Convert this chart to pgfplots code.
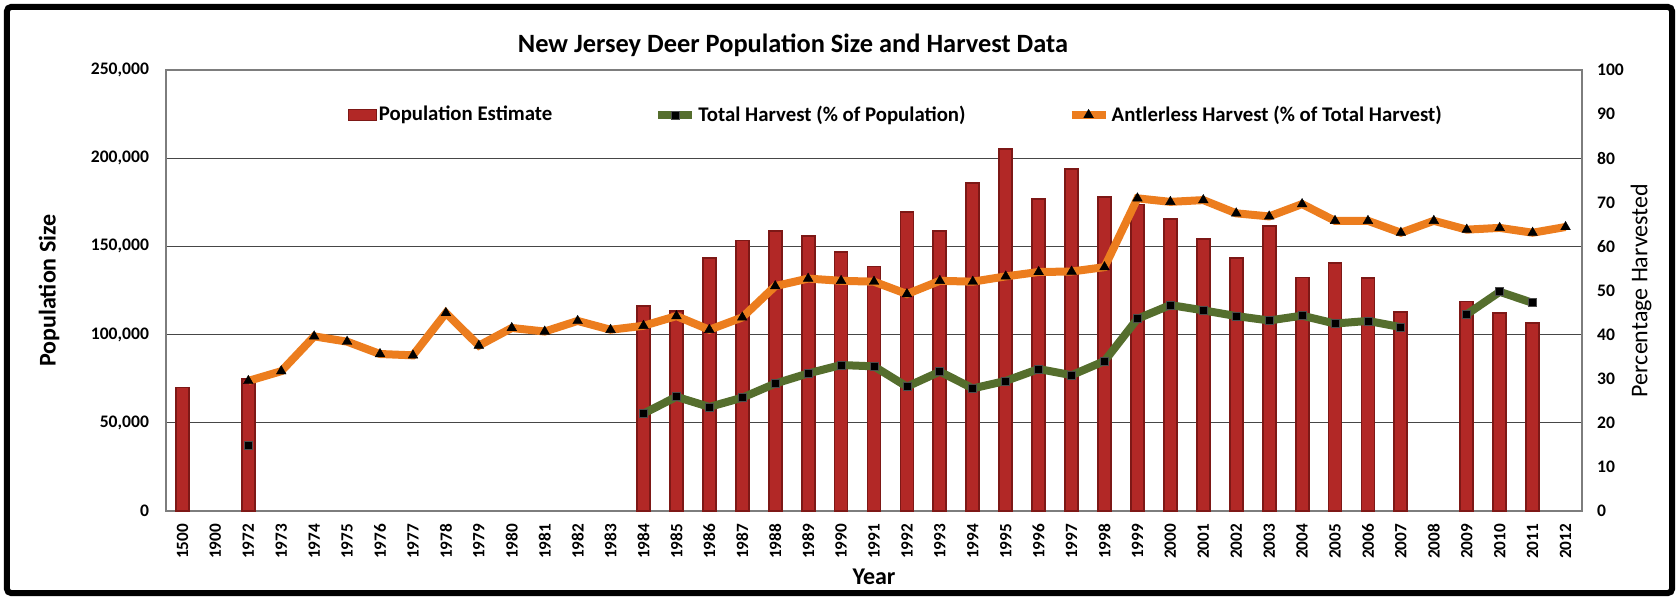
\documentclass[border=0pt]{standalone}
\usepackage{fontspec}
\setmainfont{Carlito}
\usepackage{pgfplots}
\pgfplotsset{compat=1.18}
\definecolor{bardark}{RGB}{125,24,22}
\definecolor{barfill}{RGB}{178,40,38}
\definecolor{harvgreen}{RGB}{85,110,45}
\definecolor{antorange}{RGB}{236,125,30}
\definecolor{axgray}{RGB}{125,125,125}
\definecolor{gridgray}{RGB}{70,70,70}

\begin{document}
\begin{tikzpicture}
\useasboundingbox (-83pt,-44.5pt) rectangle (756.5pt,255.5pt);
\draw[line width=3pt, rounded corners=2pt] (-79.5pt,-41pt) rectangle (753pt,252pt);
\begin{axis}[
  scale only axis, width=708pt, height=220.5pt,
  xmin=-0.5, xmax=42.5, ymin=0, ymax=250000,
  xtick={0,...,42},
  xticklabels={1500,1900,1972,1973,1974,1975,1976,1977,1978,1979,1980,1981,1982,1983,1984,1985,1986,1987,1988,1989,1990,1991,1992,1993,1994,1995,1996,1997,1998,1999,2000,2001,2002,2003,2004,2005,2006,2007,2008,2009,2010,2011,2012},
  ytick={0,50000,...,250000},
  scaled y ticks=false,
  /pgf/number format/fixed,
  /pgf/number format/1000 sep={,},
  /pgf/number format/assume math mode=true,
  ymajorgrids, grid style={gridgray, line width=0.5pt},
  major tick length=0pt,
  axis line style={axgray, line width=1.3pt},
  xticklabel style={rotate=90, anchor=east, font=\bfseries\fontsize{8.6}{10}\selectfont},
  xticklabel shift=3pt,
  yticklabel style={font=\bfseries\fontsize{8.8}{10}\selectfont},
  yticklabel shift=5pt,
  xlabel={Year},
  xlabel style={at={(axis description cs:0.5,-0.15)}, anchor=center, font=\bfseries\fontsize{12}{14}\selectfont},
  ylabel={Population Size},
  ylabel style={at={(axis description cs:-0.0826,0.5)}, anchor=center, font=\bfseries\fontsize{12}{14}\selectfont},
  every axis title shift=0pt,
  title={New Jersey Deer Population Size and Harvest Data},
  title style={at={(axis description cs:0.4428,1.0567)}, anchor=center, font=\bfseries\fontsize{13.2}{15}\selectfont},
]
\addplot[ybar, bar width=6.5pt, draw=bardark, line width=0.9pt, fill=barfill]
coordinates {
(0,70000) (2,74700) (14,116000) (15,113300) (16,143400) (17,153400)
(18,158900) (19,155900) (20,146800) (21,138600) (22,169300) (23,158900)
(24,186000) (25,205000) (26,176900) (27,194100) (28,177800) (29,173700)
(30,165700) (31,154200) (32,143200) (33,161700) (34,132400) (35,140500)
(36,132000) (37,112900) (39,118800) (40,112100) (41,106400)
};
\end{axis}
\begin{axis}[
  scale only axis, width=708pt, height=220.5pt,
  xmin=-0.5, xmax=42.5, ymin=0, ymax=100,
  axis y line*=right, axis x line=none,
  ytick={0,10,...,100},
  major tick length=0pt,
  axis line style={axgray, line width=1.3pt},
  /pgf/number format/fixed,
  /pgf/number format/assume math mode=true,
  yticklabel style={font=\bfseries\fontsize{8.8}{10}\selectfont},
  yticklabel shift=4pt,
  ylabel={Percentage Harvested},
  ylabel style={at={(axis description cs:1.0417,0.5)}, anchor=center, font=\fontsize{12}{14}\selectfont},
  unbounded coords=jump,
  legend columns=3,
  legend cell align=left,
  legend style={at={(axis description cs:0.128,0.898)}, anchor=west, draw=none, fill=none, inner sep=0pt,
    nodes={inner sep=1pt}, font=\bfseries\fontsize{10.4}{12}\selectfont,
    /tikz/every even column/.append style={column sep=50pt}},
]
\addlegendimage{legend image code/.code={\filldraw[fill=barfill, draw=bardark, line width=0.6pt] (0pt,-2.75pt) rectangle (14pt,2.75pt);}}
\addlegendentry{Population Estimate}
\addplot[harvgreen, line width=4pt, mark=square*, mark size=2pt, mark options={fill=black, draw=gray!60!black, line width=0.4pt}]
coordinates {
(2,14.8) (3,nan)
(14,22.1) (15,25.9) (16,23.6) (17,25.7) (18,28.9) (19,31.2) (20,33.1)
(21,32.8) (22,28.2) (23,31.6) (24,27.8) (25,29.5) (26,32.2) (27,30.8)
(28,34.0) (29,43.6) (30,46.7) (31,45.5) (32,44.2) (33,43.2) (34,44.3)
(35,42.5) (36,43.1) (37,41.7) (38,nan) (39,44.6) (40,49.7) (41,47.2)
};
\addlegendentry{Total Harvest (\% of Population)}
\addplot[antorange, line width=4pt, mark=triangle*, mark size=2.8pt, mark options={fill=black, draw=black, line width=0.2pt}]
coordinates {
(2,29.5) (3,31.7) (4,39.6) (5,38.4) (6,35.6) (7,35.3) (8,44.9) (9,37.5)
(10,41.5) (11,40.7) (12,43.1) (13,41.1) (14,42.0) (15,44.2) (16,41.1)
(17,43.9) (18,51.0) (19,52.7) (20,52.2) (21,52.0) (22,49.2) (23,52.2)
(24,52.0) (25,53.2) (26,54.2) (27,54.3) (28,55.3) (29,70.9) (30,70.1)
(31,70.5) (32,67.5) (33,66.8) (34,69.6) (35,65.8) (36,65.8) (37,63.1)
(38,65.8) (39,63.8) (40,64.2) (41,63.1) (42,64.4)
};
\addlegendentry{Antlerless Harvest (\% of Total Harvest)}
\end{axis}
\end{tikzpicture}
\end{document}
